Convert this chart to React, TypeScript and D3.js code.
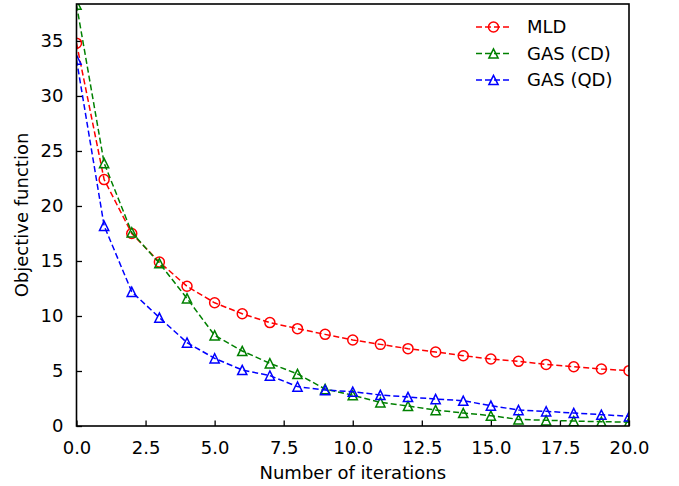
import { useEffect, useRef } from 'react';
import * as d3 from 'd3';

// valores
const iterations = [0, 1, 2, 3, 4, 5, 6, 7, 8, 9, 10, 11, 12, 13, 14, 15, 16, 17, 18, 19, 20];
const mld = [34.8, 22.4, 17.5, 14.9, 12.7, 11.2, 10.2, 9.4, 8.85, 8.33, 7.82, 7.42, 7.03, 6.73, 6.39, 6.09, 5.88, 5.6, 5.39, 5.18, 5.03];
const gasCD = [38.3, 23.9, 17.6, 14.8, 11.6, 8.24, 6.82, 5.7, 4.73, 3.36, 2.8, 2.15, 1.82, 1.45, 1.18, 0.94, 0.6, 0.52, 0.45, 0.39, 0.35];
const gasQD = [33.3, 18.2, 12.2, 9.85, 7.58, 6.15, 5.09, 4.58, 3.58, 3.27, 3.12, 2.82, 2.64, 2.45, 2.3, 1.85, 1.45, 1.33, 1.18, 1.03, 0.88];

const seriesNames = ['MLD', 'GAS (CD)', 'GAS (QD)'];
const seriesValues = [mld, gasCD, gasQD];
const seriesColors = ['#ff0000', '#008000', '#0000ff'];
const seriesMarkers = ['circle', 'triangle', 'triangle'];

const xTicks = [0, 2.5, 5, 7.5, 10, 12.5, 15, 17.5, 20];
const yTicks = [0, 5, 10, 15, 20, 25, 30, 35];

const FONT = '"DejaVu Sans", sans-serif';
const FS = '18px';

const App = () => {
  const ref = useRef<SVGSVGElement>(null);

  useEffect(() => {
    document.body.style.margin = '0';
    if (!ref.current) return;
    const svg = d3.select(ref.current);
    svg.selectAll('*').remove();

    const left = 76.5, right = 629, top = 4, bottom = 426;
    const x = d3.scaleLinear().domain([0, 20]).range([left, right]);
    const y = d3.scaleLinear().domain([0, 38.36]).range([bottom, top]);

    svg.append('defs').append('clipPath').attr('id', 'plot-clip')
      .append('rect')
      .attr('x', left).attr('y', top)
      .attr('width', right - left).attr('height', bottom - top);

    // Ejes con ticks hacia dentro
    const gx = svg.append('g')
      .attr('transform', `translate(0,${bottom})`)
      .call(d3.axisBottom(x).tickValues(xTicks).tickFormat(d => (+d).toFixed(1))
        .tickSizeInner(-5.5).tickSizeOuter(0).tickPadding(15));
    const gy = svg.append('g')
      .attr('transform', `translate(${left},0)`)
      .call(d3.axisLeft(y).tickValues(yTicks).tickFormat(d3.format('d'))
        .tickSizeInner(-5.5).tickSizeOuter(0).tickPadding(13));
    [gx, gy].forEach(g => {
      g.select('.domain').remove();
      g.selectAll('.tick line').attr('stroke', '#000').attr('stroke-width', 1.3);
      g.selectAll('.tick text').attr('fill', '#000')
        .style('font-family', FONT).style('font-size', FS);
    });

    // Curvas
    const plot = svg.append('g').attr('clip-path', 'url(#plot-clip)');
    const line = d3.line<number>().x((_, i) => x(iterations[i])).y(d => y(d));
    const triPath = (h: number) => `M0,${-h}L${-h},${h}L${h},${h}Z`;

    seriesValues.forEach((vals, s) => {
      plot.append('path').datum(vals)
        .attr('fill', 'none').attr('stroke', seriesColors[s])
        .attr('stroke-width', 1.5).attr('stroke-dasharray', '6,3')
        .attr('d', line);
      vals.forEach((v, i) => {
        if (seriesMarkers[s] === 'circle') {
          plot.append('circle')
            .attr('cx', x(iterations[i])).attr('cy', y(v)).attr('r', 5)
            .attr('fill', 'none').attr('stroke', seriesColors[s]).attr('stroke-width', 1.5);
        } else {
          plot.append('path')
            .attr('transform', `translate(${x(iterations[i])},${y(v)})`)
            .attr('d', triPath(4.6))
            .attr('fill', 'none').attr('stroke', seriesColors[s]).attr('stroke-width', 1.5);
        }
      });
    });

    // Marco
    svg.append('rect')
      .attr('x', left).attr('y', top)
      .attr('width', right - left).attr('height', bottom - top)
      .attr('fill', 'none').attr('stroke', '#000').attr('stroke-width', 1.6);

    // Etiquetas
    svg.append('text')
      .attr('x', (left + right) / 2).attr('y', 479)
      .attr('text-anchor', 'middle')
      .style('font-family', FONT).style('font-size', FS)
      .text('Number of iterations');
    svg.append('text')
      .attr('transform', `translate(28,${(top + bottom) / 2}) rotate(-90)`)
      .attr('text-anchor', 'middle')
      .style('font-family', FONT).style('font-size', FS)
      .text('Objective function');

    // Leyenda
    const lx0 = 476, lx1 = 511, lmid = 493.5;
    seriesNames.forEach((name, s) => {
      const ly = 27 + s * 26.5;
      const g = svg.append('g');
      g.append('line')
        .attr('x1', lx0).attr('x2', lx1).attr('y1', ly).attr('y2', ly)
        .attr('stroke', seriesColors[s]).attr('stroke-width', 1.5)
        .attr('stroke-dasharray', '6,3');
      if (seriesMarkers[s] === 'circle') {
        g.append('circle').attr('cx', lmid).attr('cy', ly).attr('r', 5)
          .attr('fill', 'none').attr('stroke', seriesColors[s]).attr('stroke-width', 1.5);
      } else {
        g.append('path').attr('transform', `translate(${lmid},${ly})`)
          .attr('d', triPath(4.6))
          .attr('fill', 'none').attr('stroke', seriesColors[s]).attr('stroke-width', 1.5);
      }
      g.append('text')
        .attr('x', 527).attr('y', ly).attr('dy', '0.36em')
        .style('font-family', FONT).style('font-size', FS)
        .text(name);
    });
  }, []);

  return (
    <svg ref={ref} width={679} height={486} style={{ display: 'block', background: '#fff' }} />
  );
};

export default App;
